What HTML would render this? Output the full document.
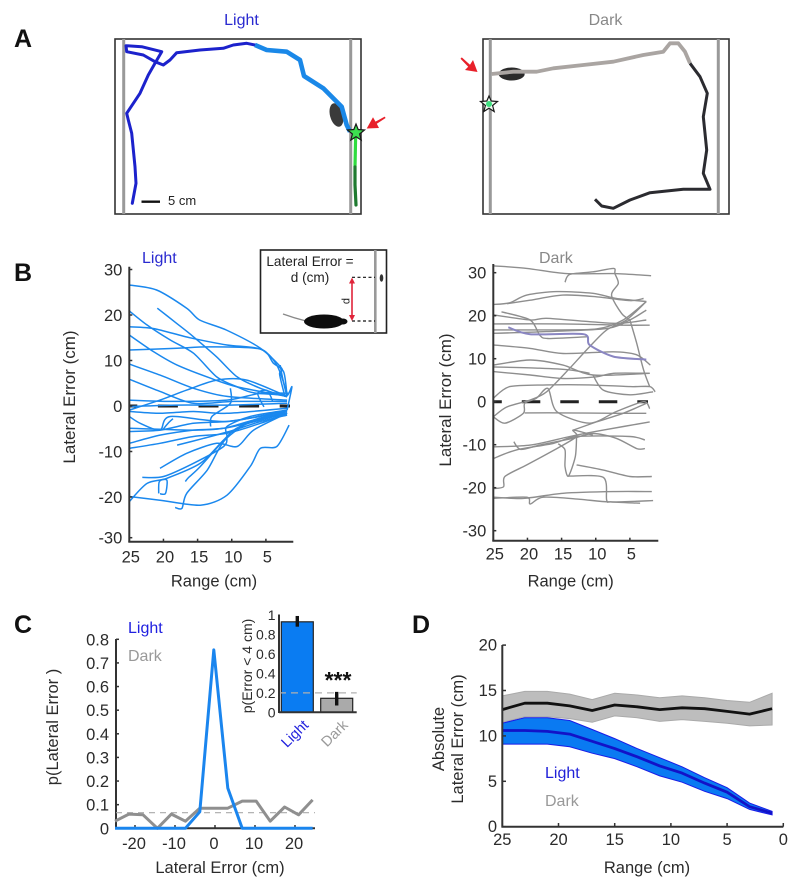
<!DOCTYPE html>
<html lang="en">
<head>
<meta charset="utf-8">
<title>Lateral error in light and dark</title>
<style>
html,body{margin:0;padding:0;background:#fff;}
svg{display:block;font-family:"Liberation Sans",Arial,sans-serif;}
</style>
</head>
<body>
<svg id="fig" width="800" height="890" viewBox="0 0 800 890" xmlns="http://www.w3.org/2000/svg">
  <!-- Panel letters -->
  <text x="14" y="47" font-size="25" font-weight="bold" fill="#111">A</text>
  <text x="14" y="281" font-size="25" font-weight="bold" fill="#111">B</text>
  <text x="14" y="633" font-size="25" font-weight="bold" fill="#111">C</text>
  <text x="412" y="633" font-size="25" font-weight="bold" fill="#111">D</text>

  <!-- Panel A light arena -->
  <g>
    <text x="241.5" y="25" text-anchor="middle" font-size="16" fill="#2a2ad0">Light</text>
    <rect x="115" y="39" width="246" height="175" fill="#fff" stroke="#333" stroke-width="1.6"/>
    <line x1="123.7" y1="39" x2="123.7" y2="214" stroke="#999" stroke-width="3"/>
    <line x1="350.7" y1="39" x2="350.7" y2="214" stroke="#999" stroke-width="3"/>
    <ellipse cx="336.5" cy="115" rx="6.5" ry="12" transform="rotate(-15 336.5 115)" fill="#3a3a3a"/>
    <polyline fill="none" stroke="#1c22cc" stroke-width="3" stroke-linejoin="round" stroke-linecap="round" points="132.3,203.3 136,183.3 135,166.7 131.7,133.3 128.3,120 126.7,113.3 140,93.3 148.3,75 155,63.3 161.7,51.7 141.7,46.7 126,45.7 126.7,51.7 143.3,55 155,61.7 163.3,65 170,60 176.7,52.7 200,50 223.3,48.3 233.3,45 246.7,43.3 255,45"/>
    <polyline fill="none" stroke="#1a88e8" stroke-width="4.6" stroke-linejoin="round" points="255,45 266.7,50 286.7,51.7 300,60 304,76 323.3,88.3 341.7,106.7 346.7,125 350,131.7"/>
    <polyline fill="none" stroke="#2fdc3f" stroke-width="3.2" points="355.7,133 355,167"/>
    <polyline fill="none" stroke="#1f7a30" stroke-width="3.2" stroke-linecap="round" points="355,167 355,185 356,205"/>
    <polygon points="356,124 358.2,129.5 364.5,130 359.6,134 361.2,140 356,136.7 350.8,140 352.4,134 347.5,130 353.8,129.5" fill="#3de04f" stroke="#1a1a1a" stroke-width="1.2"/>
    <polygon points="366.7,128.5 373,117.3 375.5,121.6 384.7,116.6 385.6,118 376.8,123.8 379,128" fill="#e8202a"/>
    <line x1="141.5" y1="201.7" x2="160" y2="201.7" stroke="#111" stroke-width="2.4"/>
    <text x="168" y="205" font-size="13" fill="#222">5 cm</text>
  </g>

  <!-- Panel A dark arena -->
  <g>
    <text x="605.5" y="25" text-anchor="middle" font-size="16" fill="#888">Dark</text>
    <rect x="483" y="39" width="246" height="175" fill="#fff" stroke="#333" stroke-width="1.6"/>
    <line x1="490.3" y1="39" x2="490.3" y2="214" stroke="#999" stroke-width="3"/>
    <line x1="718.3" y1="39" x2="718.3" y2="214" stroke="#999" stroke-width="3"/>
    <ellipse cx="511.7" cy="74" rx="13" ry="6.5" fill="#2a2a2a"/>
    <polyline fill="none" stroke="#aaa5a2" stroke-width="3.8" stroke-linejoin="round" points="491.7,74 513.3,71.7 536.7,71.7 553.3,68.3 583.3,65 613.3,61.7 643.3,55 663.3,51.7 670,43.3 678.3,43.3 685,51.7 690,63.3"/>
    <polyline fill="none" stroke="#2b2b30" stroke-width="3" stroke-linejoin="round" points="690,63.3 700,76.7 707.3,93.3 703.3,116.7 706.7,150 703.3,173.3 710,189.3 683.3,189.3 650,192.7 630,200 613.3,208.3 601.7,206 595,199.3"/>
    <polygon points="489,96 491.2,101 497.5,101.5 492.6,105.5 494.2,111.5 489,108.2 483.8,111.5 485.4,105.5 480.5,101.5 486.8,101" fill="#f2fbf2" stroke="#1a1a1a" stroke-width="1.2"/>
    <circle cx="489" cy="104" r="3" fill="#3de07f"/>
    <polygon points="477.5,72 465,70 468.2,66.8 460.5,58.8 461.8,57.4 470,64.8 473,60" fill="#e8202a"/>
  </g>

  <!-- Panel B containers -->
  <g id="b-left">
    <text x="142" y="263" font-size="16" fill="#2a2ad0">Light</text>
  </g>
  <g>
    <rect x="260.5" y="250" width="126" height="83" fill="#fff" stroke="#222" stroke-width="1.6"/>
    <line x1="375.3" y1="250" x2="375.3" y2="333" stroke="#999" stroke-width="2.6"/>
    <text x="310" y="266" text-anchor="middle" font-size="13.6" fill="#222">Lateral Error =</text>
    <text x="310" y="282" text-anchor="middle" font-size="13.6" fill="#222">d (cm)</text>
    <line x1="352" y1="277.3" x2="375" y2="277.3" stroke="#111" stroke-width="1.2" stroke-dasharray="3 2.5"/>
    <line x1="352" y1="321" x2="375" y2="321" stroke="#111" stroke-width="1.2" stroke-dasharray="3 2.5"/>
    <line x1="352" y1="282" x2="352" y2="317" stroke="#e0243a" stroke-width="1.6"/>
    <polygon points="352,277.5 349,283.5 355,283.5" fill="#e0243a"/>
    <polygon points="352,321 349,315 355,315" fill="#e0243a"/>
    <text x="0" y="0" transform="translate(349.5 301) rotate(-90)" text-anchor="middle" font-size="11" fill="#222">d</text>
    <path d="M283 314 Q294 318 306 321" fill="none" stroke="#888" stroke-width="1.2"/>
    <ellipse cx="324" cy="321.5" rx="20" ry="7" fill="#0d0d0d"/>
    <ellipse cx="343" cy="321.5" rx="4.5" ry="3" fill="#0d0d0d"/>
    <ellipse cx="381.5" cy="278" rx="1.8" ry="3.8" fill="#333"/>
  </g>
  <g id="b-right">
    <text x="539" y="263" font-size="16" fill="#888">Dark</text>
  </g>

  <!-- Panel C -->
  <g id="c-main">
    <text x="128" y="633" font-size="16" fill="#2020e0">Light</text>
    <text x="128" y="661" font-size="16" fill="#999">Dark</text>
  </g>
  <g id="c-inset"></g>

  <!-- Panel D -->
  <g id="d-main"></g>
</svg>

<script>
// ---------- Panel B : single-trial traces as [range cm, lateral error cm] ----------
const bRangeTicks = [25, 20, 15, 10, 5];
const bLightErrorTicks = [30, 20, 10, 0, -10, -20, -30];
const bDarkErrorTicks = [30, 20, 10, 0, -10, -20, -30];
const lightTrials = [
  [[25,26.6],[21,25.5],[16.6,21.5],[14.7,18.9],[10.8,16.7],[5.8,12.7],[2.7,8.3],[3,7],[2.2,2]],
  [[20.9,21.5],[18.1,18.2],[15.6,15.2],[12.2,10.8],[9.2,6.4],[5.8,3.9],[1.9,2]],
  [[25,20.9],[22.4,17.8],[19,14.5],[15.6,11.6],[12.2,6.4],[9.2,4.2],[6.8,2.9],[1.9,2.4]],
  [[25,17.4],[21.4,17],[16.1,15],[10.7,13.4],[5.8,12.5],[3.4,9],[1.9,2.8]],
  [[25,15.6],[21.4,11.9],[18,9],[13.1,6.1],[9.2,4.2],[1.9,2.1]],
  [[25,12.3],[18,12.7],[13.1,13],[5.8,12.5],[3.9,9.4],[2.4,7.5],[1.9,2.1]],
  [[25,9.2],[20.5,6.8],[15.6,3.9],[10.7,2.1],[1.9,1.3]],
  [[25,5.9],[20.5,3.2],[15.6,0.6],[9.7,1],[1.9,1]],
  [[25,-0.9],[20.5,1.3],[16.6,3.5],[12.2,5.7],[7.8,5.7],[1.9,2.1]],
  [[25,1.3],[19,1],[10.7,1.3],[5.8,2.8],[1.7,2.8]],
  [[25,-0.1],[18,0.2],[10.2,0.2],[1.9,0.6]],
  [[25,-1.2],[20.5,-1.6],[15.6,-1.2],[10.7,-1.6],[1.9,-0.5]],
  [[25,-2.3],[23.4,-3.8],[20.5,-5.3],[19,-2.3],[10.7,-3.4],[1.9,-0.9]],
  [[25,-5.6],[20.5,-5.3],[15.6,-3.8],[10.7,-3.4],[5.8,-2.3],[1.9,-1.2]],
  [[25,-4.9],[15.6,-5.3],[11.2,-4.9],[6.8,-3.1],[1.9,-1.6]],
  [[25,-8.2],[20.5,-6.4],[15.6,-5.3],[11.2,-4.9],[5.8,-3.1],[1.9,-1.6]],
  [[25,-9.3],[20.5,-8.2],[15.6,-6.7],[10.7,-6],[5.8,-3.8],[1.9,-1.6]],
  [[18,-8.6],[14.1,-7.1],[9.7,-5.3],[5.8,-3.4],[1.9,-2]],
  [[20.5,-13.7],[16.6,-10.4],[12.2,-8.2],[9.2,-8.9],[6.8,-5.3],[1.9,-1.6]],
  [[23.1,-15.7],[20,-15.5],[15.6,-12.6],[11.2,-8.9],[10.7,-6.7],[10.7,-4.5],[7.3,-2.3],[1.9,-0.9]],
  [[25,-21],[22.4,-17],[19.5,-15.9],[14.6,-12.6],[11.2,-7.5],[8.8,-4.5],[1.9,-1.2]],
  [[20.7,-19.2],[20.6,-16.6],[19.5,-16.3],[19.7,-19.2],[20.5,-19.3]],
  [[25,-19.9],[20.5,-20.7],[14.6,-21.8],[10.7,-19.6],[7.3,-13.3],[5.8,-9.3],[3.4,-8.9],[1.6,-4.2]],
  [[18.3,-22.3],[17.3,-22.5],[16.6,-19.2],[13.6,-14.1],[11,-7.5],[6.8,-3.1],[1.9,-1.6]],
  [[16.8,-16.6],[16.3,-15.7],[14.6,-13.3],[10.7,-6.7]],
  [[2.9,9],[2.6,6.5],[1.9,2.4],[1.2,4.2],[1.9,-0.9]],
  [[13.1,-4.5],[12.9,-2.3],[10.2,0.6],[10.2,3.9]],
  [[20,-5],[19.2,-3.6],[18.6,-2.8]],
  [[5.3,-0.2],[6.2,2.8],[4.8,3.4],[4,1]]
];
const darkTrials = [
  [[25,31.6],[20.1,31],[14.3,29.8],[7.4,29.8],[1.9,29.3]],
  [[14.5,27.8],[13.8,29.6],[10.4,30.2],[7.4,31],[7.2,29.8],[6.7,27.5],[7.7,24.8],[6.2,20.5],[5,19]],
  [[25,22.6],[22.6,23],[20.1,24.8],[15.7,25.6],[10.4,25.2],[7,24],[2.6,23.3]],
  [[23,22.8],[19.6,23.6],[14.8,24.8],[9.9,24.4],[5,23.5],[3,24]],
  [[25,20.2],[19.6,19],[17.2,19.4],[10.9,18.6],[6.5,18.2],[2.6,19]],
  [[23.8,20.9],[19.6,19],[18.2,15.5],[17,14.7],[11.3,15.1]],
  [[25,18.1],[14.8,18.1],[6,17.8],[2.1,17.8]],
  [[25,15.9],[17.2,16.3],[8.4,17],[5,19],[2.6,21.3]],
  [[25,16.7],[18,16.7],[9.9,16.9],[6,19],[2.6,23.3]],
  [[25,13.2],[19.6,12.4],[14.8,11.2],[7.4,11.6],[4,10.9],[2,8.5]],
  [[25,8.5],[19.6,9.7],[14.8,8.5],[10.4,6.2],[2.1,6.6]],
  [[25,8.1],[18.2,7.8],[13.8,7.4],[10.9,6.6]],
  [[25,7],[19.6,6.2],[14.8,5.4],[9.9,5.8],[7.4,6.6],[2.1,6.6]],
  [[25,0.8],[22.6,3.5],[17.2,3.9],[10.9,3.9],[5,3.5],[2.1,3.5],[1.3,2.3]],
  [[25,-3.5],[23,-1.2],[19.6,0.4],[17.2,2.3],[13.8,7.8],[10.9,12.8],[8.4,16.7],[5.5,19],[2.6,23.3]],
  [[25,-3.5],[23.3,-5],[20.6,-2.7],[20.4,-0.4],[18.7,0.8],[17,3.1],[15.7,-2.3],[10.9,-5],[7,-2.3],[3,0],[2.1,-1.6]],
  [[20.4,-2.6],[14.8,-2.6],[7,-2.7],[2.6,-2.7]],
  [[10.4,6.2],[8.9,2.7],[5,1.6],[1.6,2.3]],
  [[25,-10.5],[19.6,-10.1],[13.8,-8.1],[8.9,-6.6],[2.1,-4.7]],
  [[25,-13.2],[21.6,-11.2],[16.2,-9.7],[12.8,-8.1],[5,-8.1],[2.8,-8.9]],
  [[22,-9.3],[21,-11.1],[18.2,-10.1],[13.3,-8.5],[10.4,-7.4],[7,-8.5],[4,-10.9],[2.8,-10.9]],
  [[25,-20.2],[23.5,-19.8],[23.3,-17.4],[20.1,-14.7],[15.7,-10.9],[12.8,-8.1],[13.3,-6.6],[10.4,-7.8]],
  [[13.3,-6.6],[9.9,-4.7],[6,-2.7],[2.6,-0.4]],
  [[15.5,-9.8],[14.5,-11.2],[14.5,-15.1],[14,-17.3],[13,-12.8],[12.8,-8.1]],
  [[12.8,-14.7],[8.9,-15.9],[5,-17.4],[1.8,-17.4]],
  [[14,-17.3],[8.9,-17.6],[8.4,-22.9],[7.7,-23.3],[3.5,-23.6]],
  [[25,-22.2],[20.6,-22.5],[14.8,-21.3],[7.4,-20.9],[1.8,-20.9]],
  [[25,-22.5],[20.1,-22.2],[19.6,-23.8],[17.7,-22.2],[12.3,-22.7],[7.9,-23.3],[1.6,-23]],
  [[5,19],[4,13.6],[3,7.4],[2.1,3.5]]
];
const darkHighlightTrial = [[22.8,17.3],[19.6,15.7],[11.8,15.7],[10.9,13.2],[7.4,10.5],[2.6,9.8]];

// ---------- Panel C ----------
const cErrorBins = [-25,-21.5,-18,-14.4,-10.9,-7.4,-3.8,-0.3,3.2,6.8,10.3,13.8,17.4,20.9,24.4];
const cLightProb = [0,0,0,0,0,0,0.07,0.755,0.17,0,0,0,0,0,0];
const cDarkProb = [0.03,0.06,0.057,0,0.06,0.03,0.085,0.085,0.085,0.115,0.115,0.03,0.09,0.057,0.12];
const cChanceLevel = [0.066];
const cYTicks = [0,0.1,0.2,0.3,0.4,0.5,0.6,0.7,0.8];
const cXTicks = [-20,-10,0,10,20];
const insetLabels = ['Light','Dark'];
const insetValues = [0.93,0.144];
const insetErrLow = [0.88,0.07];
const insetErrHigh = [0.99,0.21];
const insetChance = [0.2];
const insetTicks = [0,0.2,0.4,0.6,0.8,1];

// ---------- Panel D ----------
const dRange = [25,23,21,19,17,15,13,11,9,7,5,3,1];
const dDarkMean = [12.9,13.6,13.6,13.3,12.8,13.4,13.2,12.9,13.1,13,12.7,12.4,13];
const dDarkUpper = [14.4,14.9,14.9,14.6,14,14.7,14.5,14.2,14.4,14.2,13.9,13.7,14.7];
const dDarkLower = [11.5,12.1,12.1,11.9,11.5,12.2,12,11.6,11.8,11.6,11.4,11.1,11.2];
const dLightMean = [10.6,10.6,10.5,10.2,9.4,8.6,7.7,6.7,5.9,4.8,3.8,2.2,1.5];
const dLightUpper = [11.4,12,12,11.7,10.7,9.7,8.6,7.6,6.6,5.4,4.3,2.6,1.7];
const dLightLower = [9.1,9.1,9.1,8.8,8.1,7.5,6.6,5.6,4.9,3.9,3.1,1.9,1.3];
const dXTicks = [25,20,15,10,5,0];
const dYTicks = [0,5,10,15,20];

const NS = 'http://www.w3.org/2000/svg';
function mk(tag, parent, attrs, txt) {
  const el = document.createElementNS(NS, tag);
  for (const k in attrs) el.setAttribute(k, attrs[k]);
  if (txt !== undefined) el.textContent = txt;
  parent.appendChild(el);
  
  return el;
}
// Smooth path through the trace's points (Catmull-Rom to cubic Bezier)
function smoothPath(arr, fx, fy) {
  const p = arr.map(q => [fx(q[0]), fy(q[1])]);
  let d = 'M' + p[0][0].toFixed(1) + ' ' + p[0][1].toFixed(1);
  const k = 0.14;
  for (let i = 0; i < p.length - 1; i++) {
    const a = p[Math.max(i - 1, 0)], b = p[i], c = p[i + 1], e = p[Math.min(i + 2, p.length - 1)];
    d += ' C' + (b[0] + (c[0] - a[0]) * k).toFixed(1) + ' ' + (b[1] + (c[1] - a[1]) * k).toFixed(1) +
         ' ' + (c[0] - (e[0] - b[0]) * k).toFixed(1) + ' ' + (c[1] - (e[1] - b[1]) * k).toFixed(1) +
         ' ' + c[0].toFixed(1) + ' ' + c[1].toFixed(1);
  }
  return d;
}
const AX = '#333';
const TXT = '#2b2b2b';

// Generic range/error panel
function drawB(g, cfg) {
  const x = cfg.x, y = cfg.y;
  const zero = mk('line', g, {x1: cfg.axisX, x2: cfg.zeroEnd, y1: y(0), y2: y(0), stroke: '#222', 'stroke-width': 3, 'stroke-dasharray': cfg.zeroDash, 'stroke-dashoffset': cfg.zeroOffset});
  
  cfg.trials.forEach(function (t) {
    const line = mk('path', g, {d: smoothPath(t, x, y), fill: 'none', stroke: cfg.color, 'stroke-width': cfg.width, 'stroke-linejoin': 'round'});
    
  });
  if (cfg.highlight) {
    const hl = mk('path', g, {d: smoothPath(cfg.highlight, x, y), fill: 'none', stroke: '#8a86c2', 'stroke-width': 2, 'stroke-linejoin': 'round'});
    
  }
  const yAxis = mk('line', g, {x1: cfg.axisX, x2: cfg.axisX, y1: cfg.top, y2: cfg.bottom, stroke: AX, 'stroke-width': 2});
  
  const xAxis = mk('line', g, {x1: cfg.axisX - 1, x2: cfg.axisEnd, y1: cfg.bottom, y2: cfg.bottom, stroke: AX, 'stroke-width': 2});
  
  cfg.yTicks.forEach(function (v) {
    const py = Math.min(y(v), cfg.bottom - 4);
    const tk = mk('line', g, {x1: cfg.axisX, x2: cfg.axisX + 3, y1: py, y2: py, stroke: AX, 'stroke-width': 1.5});
    
    const lb = mk('text', g, {x: cfg.axisX - 7, y: py + 6, 'text-anchor': 'end', 'font-size': 16.5, fill: TXT}, String(v));
    
  });
  bRangeTicks.forEach(function (v) {
    const tk = mk('line', g, {x1: x(v), x2: x(v), y1: cfg.bottom, y2: cfg.bottom - 3, stroke: AX, 'stroke-width': 1.5});
    
    const lb = mk('text', g, {x: x(v) + 1.5, y: cfg.tickBase, 'text-anchor': 'middle', 'font-size': 16.5, fill: TXT}, String(v));
    
  });
  const xt = mk('text', g, {x: cfg.xTitleX, y: 586.7, 'text-anchor': 'middle', 'font-size': 16.5, fill: TXT}, 'Range (cm)');
  
  const yt = mk('text', g, {transform: 'translate(' + cfg.yTitleX + ' ' + cfg.yTitleY + ') rotate(-90)', 'text-anchor': 'middle', 'font-size': 17, fill: TXT}, 'Lateral Error (cm)');
  
}

drawB(document.getElementById('b-left'), {
  key: 'light', trials: lightTrials, color: '#1a88ee', width: 1.5,
  x: r => 129.3 + (25 - r) * 6.83, y: e => 406 - 4.55 * e,
  axisX: 129.3, axisEnd: 293.3, zeroEnd: 290, zeroDash: '20 20.6', zeroOffset: 12, top: 266.7, bottom: 541.7,
  yTicks: bLightErrorTicks, xTitleX: 214, yTitleX: 75, yTitleY: 397, tickBase: 562.5
});
drawB(document.getElementById('b-right'), {
  key: 'dark', trials: darkTrials, color: '#8e8e8e', width: 1.4, highlight: darkHighlightTrial,
  x: r => 493.3 + (25 - r) * 6.83, y: e => 401.7 - 4.3 * e,
  axisX: 493.3, axisEnd: 658.3, zeroEnd: 648, zeroDash: '18.5 20', zeroOffset: 10, top: 264, bottom: 540.7,
  yTicks: bDarkErrorTicks, xTitleX: 570.7, yTitleX: 451, yTitleY: 400, tickBase: 559.5
});

// ---------- Panel C main ----------
(function () {
  const g = document.getElementById('c-main');
  const x = v => 215 + 4 * v, y = p => 828.3 - 236.25 * p;
  const left = 116, right = 315;
  const yA = mk('line', g, {x1: left, x2: left, y1: 639, y2: 829, stroke: AX, 'stroke-width': 2});
  
  const xA = mk('line', g, {x1: left, x2: right, y1: 828.3, y2: 828.3, stroke: AX, 'stroke-width': 2});
  
  cYTicks.forEach(function (v) {
    const tk = mk('line', g, {x1: left, x2: left + 3, y1: y(v), y2: y(v), stroke: AX, 'stroke-width': 1.5});
    
    const lb = mk('text', g, {x: 109, y: y(v) + 6, 'text-anchor': 'end', 'font-size': 16.5, fill: TXT}, String(v));
    
  });
  cXTicks.forEach(function (v) {
    const tk = mk('line', g, {x1: x(v), x2: x(v), y1: 828.3, y2: 825, stroke: AX, 'stroke-width': 1.5});
    
    const lb = mk('text', g, {x: x(v) - 1, y: 849, 'text-anchor': 'middle', 'font-size': 16.5, fill: TXT}, String(v));
    
  });
  const ch = mk('line', g, {x1: left, x2: right, y1: y(cChanceLevel[0]), y2: y(cChanceLevel[0]), stroke: '#aaa', 'stroke-width': 1.2, 'stroke-dasharray': '6 5'});
  
  const dk = mk('polyline', g, {points: cErrorBins.map((b, i) => x(b).toFixed(1) + ',' + y(cDarkProb[i]).toFixed(1)).join(' '), fill: 'none', stroke: '#8f8f8f', 'stroke-width': 3, 'stroke-linejoin': 'round'});
  
  const lt = mk('polyline', g, {points: cErrorBins.map((b, i) => x(b).toFixed(1) + ',' + y(cLightProb[i]).toFixed(1)).join(' '), fill: 'none', stroke: '#1a85ee', 'stroke-width': 3, 'stroke-linejoin': 'round'});
  
  const xt = mk('text', g, {x: 220, y: 873, 'text-anchor': 'middle', 'font-size': 16.5, fill: TXT}, 'Lateral Error (cm)');
  
  const yt = mk('text', g, {transform: 'translate(58 727) rotate(-90)', 'text-anchor': 'middle', 'font-size': 16.5, fill: TXT}, 'p(Lateral Error )');
  
})();

// ---------- Panel C inset ----------
(function () {
  const g = document.getElementById('c-inset');
  const y = p => 712.3 - 97.3 * p;
  const barLeft = i => 281.3 + i * 39.4, barW = 32;
  const colors = ['#0a7cf2', '#aaaaaa'];
  const labelColors = ['#2222dd', '#999'];
  insetValues.forEach(function (v, i) {
    const b = mk('rect', g, {x: barLeft(i), y: y(v), width: barW, height: 712.3 - y(v), fill: colors[i], stroke: '#222', 'stroke-width': 1.2});
    
  });
  const ch = mk('line', g, {x1: 279, x2: 356.7, y1: y(insetChance[0]), y2: y(insetChance[0]), stroke: '#b0b0b0', 'stroke-width': 1.2, 'stroke-dasharray': '7 5'});
  
  insetValues.forEach(function (v, i) {
    const e = mk('line', g, {x1: barLeft(i) + barW / 2, x2: barLeft(i) + barW / 2, y1: y(insetErrLow[i]), y2: y(insetErrHigh[i]), stroke: '#111', 'stroke-width': 3.4});
    
    const cx = barLeft(i) + barW / 2 + 12, cy = 726;
    const l = mk('text', g, {transform: 'translate(' + cx + ' ' + cy + ') rotate(-45)', 'text-anchor': 'end', 'font-size': 14.5, fill: labelColors[i]}, insetLabels[i]);
    
  });
  const yA = mk('line', g, {x1: 279, x2: 279, y1: 614.5, y2: 713, stroke: AX, 'stroke-width': 2});
  
  const xA = mk('line', g, {x1: 279, x2: 356.7, y1: 712.3, y2: 712.3, stroke: AX, 'stroke-width': 2});
  
  insetTicks.forEach(function (v) {
    const lb = mk('text', g, {x: 275.5, y: y(v) + 5, 'text-anchor': 'end', 'font-size': 14, fill: TXT}, String(v));
    
  });
  const st = mk('text', g, {x: 338, y: 688, 'text-anchor': 'middle', 'font-size': 23, 'font-weight': 'bold', fill: '#111'}, '***');
  
  const yt = mk('text', g, {transform: 'translate(252 666) rotate(-90)', 'text-anchor': 'middle', 'font-size': 14, fill: TXT}, 'p(Error < 4 cm)');
  
})();

// ---------- Panel D ----------
(function () {
  const g = document.getElementById('d-main');
  const x = r => 502.3 + (25 - r) * 11.24, y = v => 826.7 - 9.08 * v;
  function band(up, lo, fill, edge, name) {
    const top = dRange.map((r, i) => x(r).toFixed(1) + ',' + y(up[i]).toFixed(1));
    const bot = dRange.map((r, i) => x(r).toFixed(1) + ',' + y(lo[i]).toFixed(1)).reverse();
    const p = mk('polygon', g, {points: top.concat(bot).join(' '), fill: fill, stroke: edge, 'stroke-width': 1});
    
  }
  function meanLine(m, color, name) {
    const l = mk('polyline', g, {points: dRange.map((r, i) => x(r).toFixed(1) + ',' + y(m[i]).toFixed(1)).join(' '), fill: 'none', stroke: color, 'stroke-width': 2.8, 'stroke-linejoin': 'round'});
    
  }
  band(dDarkUpper, dDarkLower, '#bdbdbd', '#aaa', 'dark-error-band');
  band(dLightUpper, dLightLower, '#0a7af2', '#1a1ae6', 'light-error-band');
  meanLine(dDarkMean, '#111', 'dark-mean-line');
  meanLine(dLightMean, '#1212c8', 'light-mean-line');
  const yA = mk('line', g, {x1: 502.3, x2: 502.3, y1: 645, y2: 827.5, stroke: AX, 'stroke-width': 2});
  
  const xA = mk('line', g, {x1: 501.5, x2: 783.3, y1: 826.7, y2: 826.7, stroke: AX, 'stroke-width': 2});
  
  dYTicks.forEach(function (v) {
    const tk = mk('line', g, {x1: 502.3, x2: 506, y1: y(v), y2: y(v), stroke: AX, 'stroke-width': 1.5});
    
    const lb = mk('text', g, {x: 497, y: y(v) + 5.5, 'text-anchor': 'end', 'font-size': 16.5, fill: TXT}, String(v));
    
  });
  dXTicks.forEach(function (v) {
    const tk = mk('line', g, {x1: x(v), x2: x(v), y1: 826.7, y2: 823, stroke: AX, 'stroke-width': 1.5});
    
    const lb = mk('text', g, {x: x(v), y: 845, 'text-anchor': 'middle', 'font-size': 16.5, fill: TXT}, String(v));
    
  });
  const xt = mk('text', g, {x: 647, y: 873, 'text-anchor': 'middle', 'font-size': 16.5, fill: TXT}, 'Range (cm)');
  
  const y1 = mk('text', g, {transform: 'translate(444 739) rotate(-90)', 'text-anchor': 'middle', 'font-size': 16.5, fill: TXT}, 'Absolute');
  
  const y2 = mk('text', g, {transform: 'translate(463 739) rotate(-90)', 'text-anchor': 'middle', 'font-size': 16.5, fill: TXT}, 'Lateral Error (cm)');
  
  const l1 = mk('text', g, {x: 545, y: 778, 'font-size': 16, fill: '#2020d8'}, 'Light');
  
  const l2 = mk('text', g, {x: 545, y: 806, 'font-size': 16, fill: '#999'}, 'Dark');
  
})();
</script>
</body>
</html>
